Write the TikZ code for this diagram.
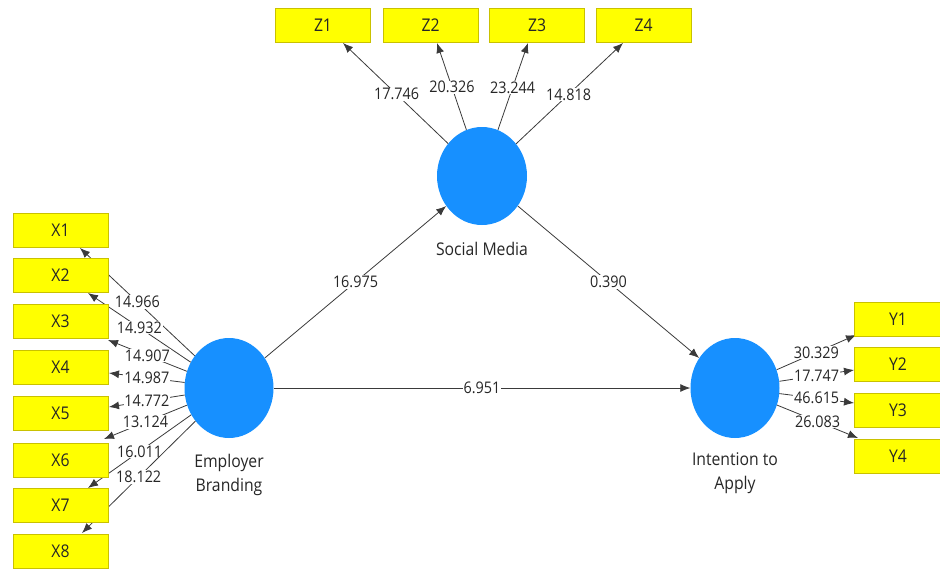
\documentclass[tikz,border=0pt]{standalone}
\usepackage{fontspec}
\setmainfont{Open Sans}[FakeStretch=0.9]
\usetikzlibrary{arrows.meta,shapes.geometric}
\definecolor{indyellow}{HTML}{FFFF00}
\definecolor{indborder}{HTML}{C9C100}
\definecolor{latentblue}{HTML}{1790FF}
\definecolor{inkgrey}{HTML}{3A3A3A}
\begin{document}
\begin{tikzpicture}[x=1pt,y=-1pt,
  every node/.style={font=\fontsize{17.5}{24}\selectfont, text=black!85},
  indicator/.style={draw=indborder, fill=indyellow, line width=0.8pt,
    minimum width=95pt, minimum height=34pt, inner sep=0pt},
  latent/.style={ellipse, fill=latentblue, minimum width=89pt,
    minimum height=100pt, inner sep=0pt},
  link/.style={draw=inkgrey, line width=0.8pt, -{Latex[length=10pt,width=8pt]}},
  coef/.style={fill=white, inner sep=0.8pt, pos=0.5,
    font=\fontsize{16}{20}\selectfont}]
\useasboundingbox (0,0) rectangle (940,570);

% latent variables
\node[latent, minimum width=90pt, minimum height=98pt] (sm) at (482,176) {};
\node[latent] (eb) at (229,388) {};
\node[latent] (ia) at (735,388) {};
\node (smlbl) at (482,249) {Social Media};
\node[align=center] (eblbl) at (229,475) {Employer\\Branding};
\node[align=center] (ialbl) at (735,473) {Intention to\\Apply};

% arrow ends on the indicator boxes
\coordinate (z1t) at (343,43);
\coordinate (z2t) at (437,43);
\coordinate (z3t) at (528,43);
\coordinate (z4t) at (623,43);
\coordinate (x1t) at (80,248);
\coordinate (x2t) at (88,293);
\coordinate (x3t) at (108,340);
\coordinate (x4t) at (109,373);
\coordinate (x5t) at (109,407);
\coordinate (x6t) at (104,439);
\coordinate (x7t) at (88,488);
\coordinate (x8t) at (82,533);
\coordinate (y1t) at (856,335);
\coordinate (y2t) at (854,370);
\coordinate (y3t) at (854,403);
\coordinate (y4t) at (858,438);

% structural paths
\draw[link] (eb) -- node[coef] {16.975} (sm);
\draw[link] (sm) -- node[coef] {0.390} (ia);
\draw[link] (eb) -- node[coef] {6.951} (ia);

% outer loadings: Social Media
\draw[link] (sm) -- node[coef, pos=0.49] {17.746} (z1t);
\draw[link] (sm) -- node[coef, pos=0.49] {20.326} (z2t);
\draw[link] (sm) -- node[coef, pos=0.49] {23.244} (z3t);
\draw[link] (sm) -- node[coef, pos=0.49] {14.818} (z4t);

% outer loadings: Employer Branding
\draw[link] (eb) -- node[coef] {14.966} (x1t);
\draw[link] (eb) -- node[coef] {14.932} (x2t);
\draw[link] (eb) -- node[coef] {14.907} (x3t);
\draw[link] (eb) -- node[coef] {14.987} (x4t);
\draw[link] (eb) -- node[coef] {14.772} (x5t);
\draw[link] (eb) -- node[coef] {13.124} (x6t);
\draw[link] (eb) -- node[coef] {16.011} (x7t);
\draw[link] (eb) -- node[coef] {18.122} (x8t);

% outer loadings: Intention to Apply
\draw[link] (ia) -- node[coef] {30.329} (y1t);
\draw[link] (ia) -- node[coef] {17.747} (y2t);
\draw[link] (ia) -- node[coef] {46.615} (y3t);
\draw[link] (ia) -- node[coef] {26.083} (y4t);

% indicator boxes
\node[indicator] (z1) at (323,25.5) {Z1};
\node[indicator] (z2) at (430.5,25.5) {Z2};
\node[indicator] (z3) at (537,25.5) {Z3};
\node[indicator] (z4) at (643.5,25.5) {Z4};
\node[indicator] (x1) at (60.5,230) {X1};
\node[indicator] (x2) at (60.5,275) {X2};
\node[indicator] (x3) at (60.5,321) {X3};
\node[indicator] (x4) at (60.5,367) {X4};
\node[indicator] (x5) at (60.5,413) {X5};
\node[indicator] (x6) at (60.5,460) {X6};
\node[indicator] (x7) at (60.5,505.5) {X7};
\node[indicator] (x8) at (60.5,551) {X8};
\node[indicator, minimum width=88pt] (y1) at (898,319) {Y1};
\node[indicator, minimum width=88pt] (y2) at (898,364) {Y2};
\node[indicator, minimum width=88pt] (y3) at (898,410) {Y3};
\node[indicator, minimum width=88pt] (y4) at (898,456) {Y4};
\end{tikzpicture}
\end{document}
